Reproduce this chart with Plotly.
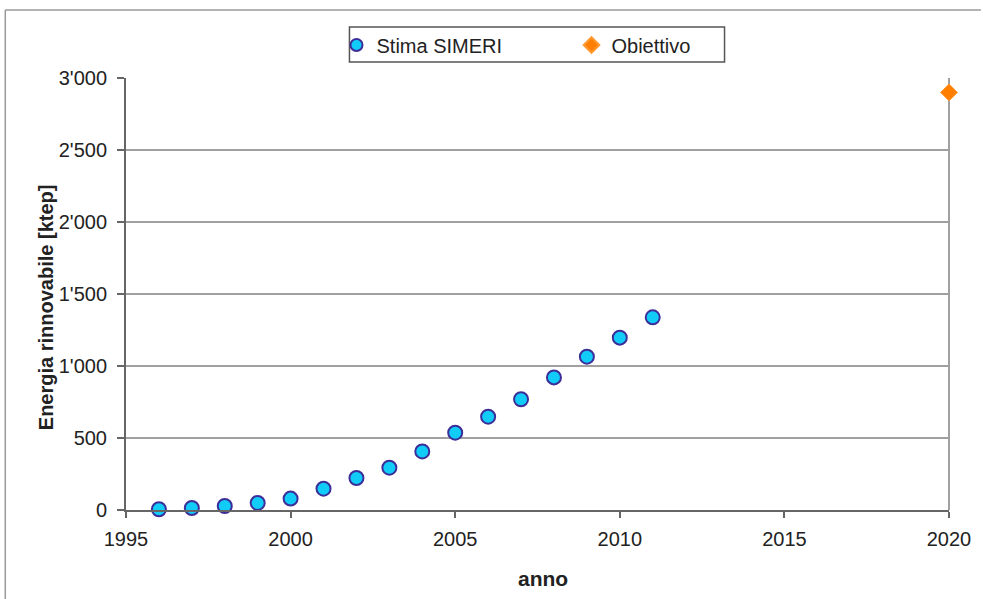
import plotly.graph_objects as go

# Renewable energy estimate (SIMERI) and 2020 target, in ktep
anni = [1996, 1997, 1998, 1999, 2000, 2001, 2002, 2003, 2004, 2005,
        2006, 2007, 2008, 2009, 2010, 2011]
stima_simeri = [5, 14, 28, 49, 79, 148, 222, 294, 407, 537,
                648, 769, 921, 1065, 1197, 1338]
anno_obiettivo = [2020]
obiettivo = [2900]

x_ticks = [1995, 2000, 2005, 2010, 2015, 2020]
y_ticks = [0, 500, 1000, 1500, 2000, 2500, 3000]

W, H = 983, 599
L, R, T, B = 126, 32, 78, 89

fig = go.Figure()
fig.add_trace(go.Scatter(
    x=anni, y=stima_simeri, mode="markers", name="Stima SIMERI",
    cliponaxis=False,
    marker=dict(symbol="circle", size=14, color="#12CCF8",
                line=dict(color="#3B2E9A", width=2)),
))
fig.add_trace(go.Scatter(
    x=anno_obiettivo, y=obiettivo, mode="markers", name="Obiettivo",
    cliponaxis=False,
    marker=dict(symbol="diamond", size=13, color="#FF8000",
                line=dict(color="#FF9A30", width=1)),
))

# helpers: pixel position -> paper fraction
pw = W - L - R
ph = H - T - B
def px_x(p):
    return (p - L) / pw
def px_y(p):
    return (H - B - p) / ph

# outer frame (left and top edges)
fig.add_shape(type="line", xref="paper", yref="paper",
              x0=px_x(5), x1=px_x(983), y0=px_y(10), y1=px_y(10),
              line=dict(color="#9a9a9a", width=1.5), layer="below")
fig.add_shape(type="line", xref="paper", yref="paper",
              x0=px_x(5), x1=px_x(5), y0=px_y(10), y1=px_y(599),
              line=dict(color="#9a9a9a", width=1.5), layer="below")
# right edge of the plot area
fig.add_shape(type="line", xref="paper", yref="paper",
              x0=1, x1=1, y0=0, y1=1,
              line=dict(color="#a0a0a0", width=2), layer="below")
# legend box
fig.add_shape(type="rect", xref="paper", yref="paper",
              x0=px_x(350), x1=px_x(726), y0=px_y(62), y1=px_y(27),
              line=dict(color="#555555", width=1.5), fillcolor="white",
              layer="below")

# axis titles
fig.add_annotation(text="<b>anno</b>", xref="paper", yref="paper",
                   x=px_x(544), y=px_y(578), xanchor="center", yanchor="middle",
                   showarrow=False, font=dict(size=21))
fig.add_annotation(text="<b>Energia rinnovabile [ktep]</b>", xref="paper", yref="paper",
                   x=px_x(46), y=px_y(307), xanchor="center", yanchor="middle",
                   textangle=-90, showarrow=False, font=dict(size=20))

fig.update_layout(
    width=W, height=H,
    margin=dict(l=L, r=R, t=T, b=B),
    paper_bgcolor="white", plot_bgcolor="white",
    separators=".'",
    font=dict(family="Liberation Sans, Arial, sans-serif", size=20, color="#222222"),
    showlegend=True,
    legend=dict(
        orientation="h", x=px_x(337), xanchor="left",
        y=px_y(45), yanchor="middle",
        borderwidth=0, bgcolor="rgba(0,0,0,0)",
        font=dict(size=20), itemwidth=30, itemsizing="constant",
        entrywidthmode="pixels", entrywidth=190,
    ),
    xaxis=dict(
        range=[1995, 2020], tickvals=x_ticks,
        showgrid=False, zeroline=False,
        showline=True, linecolor="#666666", linewidth=2,
        ticks="outside", ticklen=6, tickcolor="#666666", tickwidth=2,
        ticklabelstandoff=4,
    ),
    yaxis=dict(
        range=[0, 3000], tickvals=y_ticks, tickformat=",",
        showgrid=True, gridcolor="#a0a0a0", gridwidth=2,
        zeroline=False,
        showline=True, linecolor="#666666", linewidth=2,
        ticks="outside", ticklen=7, tickcolor="#666666", tickwidth=2,
        ticklabelstandoff=6,
    ),
)

fig.write_html("out.html")
